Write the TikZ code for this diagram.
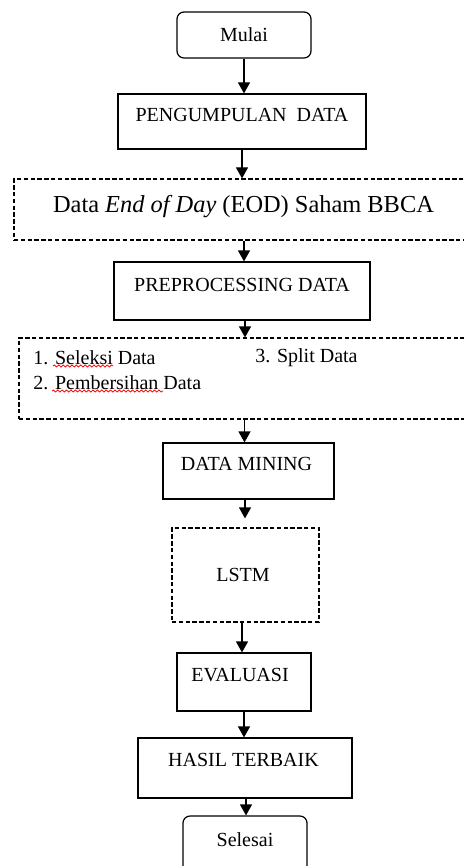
\documentclass[tikz,border=0pt]{standalone}
\usepackage{fontspec}
\setmainfont{Liberation Serif}
\usetikzlibrary{arrows.meta,decorations.pathmorphing}
\tikzset{
  box/.style={draw, line width=0.6pt, inner sep=0pt},
  dbox/.style={box, dash pattern=on 2.2pt off 1.2pt},
  rbox/.style={box, rounded corners=3.5pt},
  lbl/.style={inner sep=0pt, font=\fontsize{10}{12}\selectfont},
  arr/.style={line width=0.6pt, -{Triangle[length=5.5pt,width=6pt]}},
  wavy/.style={red, line width=0.4pt, decorate, decoration={snake, amplitude=0.5pt, segment length=2.2pt}}
}
\begin{document}
\begin{tikzpicture}[x=0.5pt,y=-0.5pt]
\useasboundingbox (0,0) rectangle (463,866);
% boxes
\node[rbox, minimum width=67pt, minimum height=23pt] (mulai) at (244,35) {};
\node[box, minimum width=124pt, minimum height=27.5pt] (peng) at (242,121.5) {};
\node[dbox, minimum width=228pt, minimum height=30.5pt] (eod) at (242,209.5) {};
\node[box, minimum width=128pt, minimum height=29pt] (pre) at (242,291) {};
\node[dbox, minimum width=225.5pt, minimum height=40.5pt] (list) at (244.5,378.5) {};
\node[box, minimum width=85.5pt, minimum height=28pt] (dm) at (248.5,471) {};
\node[dbox, minimum width=73.5pt, minimum height=47pt] (lstm) at (245.5,575) {};
\node[box, minimum width=67pt, minimum height=29pt] (eval) at (244,682) {};
\node[box, minimum width=107pt, minimum height=30pt] (hasil) at (245,768) {};
\node[rbox, minimum width=62pt, minimum height=29pt] (selesai) at (245,845) {};
% texts
\node[lbl] (tmulai) at (244,35) {Mulai};
\node[lbl] (tpeng) at (242,115) {PENGUMPULAN\ \ DATA};
\node[lbl, font=\fontsize{12.2}{14}\selectfont] (teod) at (243.5,207) {Data \textit{End of Day} (EOD) Saham BBCA};
\node[lbl] (tpre) at (242,285) {PREPROCESSING\ DATA};
\node[lbl, anchor=west] (t1) at (33,358) {1. Seleksi Data};
\node[lbl, anchor=west] (t2) at (33,383) {2. Pembersihan Data};
\node[lbl, anchor=west] (t3) at (255,358) {3. Split Data};
\node[lbl] (tdm) at (246.5,464) {DATA MINING};
\node[lbl] (tlstm) at (243,575) {LSTM};
\node[lbl] (teval) at (240,675) {EVALUASI};
\node[lbl] (thasil) at (243.5,760) {HASIL TERBAIK};
\node[lbl] (tsel) at (245,840) {Selesai};
% spell-check underlines
\draw[wavy] (53,366) -- (113,366);
\draw[wavy] (52,391) -- (163,391);
% connectors
\draw[arr] (mulai.south) -- (mulai.south |- peng.north);
\draw[arr] (peng.south) -- (peng.south |- eod.north);
\draw[arr] ([xshift=1pt]eod.south) -- ([xshift=1pt]eod.south |- pre.north);
\draw[arr] ([xshift=1.5pt]pre.south) -- ([xshift=1.5pt]pre.south |- list.north);
\draw[arr] (list.south) -- (list.south |- dm.north);
\draw[arr] ([xshift=-1.75pt]dm.south) -- ([xshift=-1.75pt,yshift=4.5pt]dm.south |- lstm.north);
\draw[arr] ([xshift=-1.75pt]lstm.south) -- ([xshift=-1.75pt]lstm.south |- eval.north);
\draw[arr] (eval.south) -- (eval.south |- hasil.north);
\draw[arr] ([xshift=0.5pt]hasil.south) -- ([xshift=0.5pt]hasil.south |- selesai.north);
\end{tikzpicture}
\end{document}
